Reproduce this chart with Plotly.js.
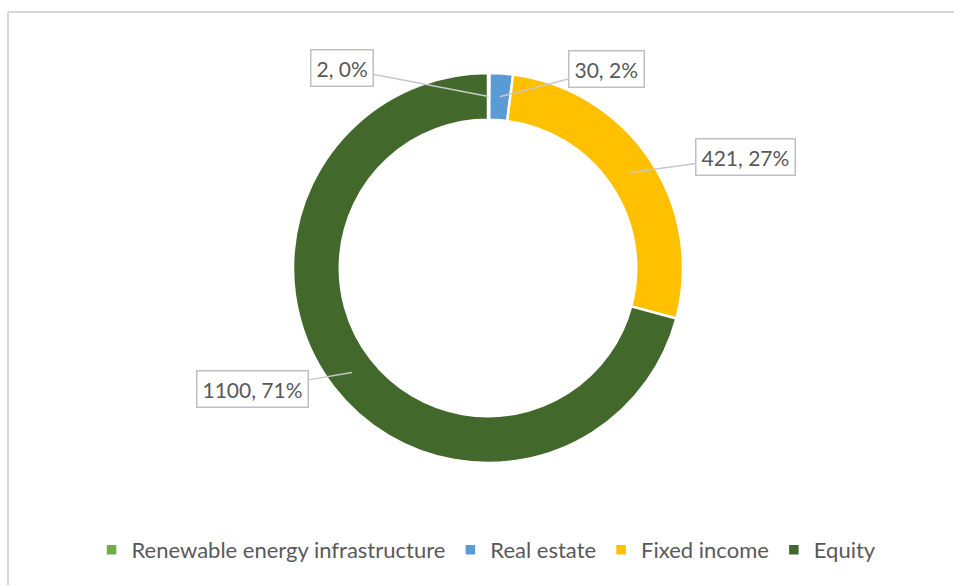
<!DOCTYPE html>
<html>
<head>
<meta charset="utf-8">
<script src="https://cdn.plot.ly/plotly-3.0.1.min.js"></script>
<style>html,body{margin:0;padding:0;background:#fff;}#chart{width:954px;height:585px;}</style>
</head>
<body>
<div id="chart"></div>
<script>
const categories = ["Renewable energy infrastructure", "Real estate", "Fixed income", "Equity"];
const values = [2, 30, 421, 1100];
const colors = ["#70ad47", "#5b9bd5", "#ffc000", "#43682b"];

const W = 954, H = 585;
const cx = 488, cy = 268, R = 195, hole = 0.76;
// label text offsets (pixels) relative to leader tip
const labelOffsets = [[-147, -28], [107, -28], [115, -16], [-99, 17]];

const total = values.reduce((a, b) => a + b, 0);
const midR = R * (1 + hole) / 2;
const annotations = [];
let cum = 0;
values.forEach((v, i) => {
  const mid = (cum + v / 2) / total * 2 * Math.PI;
  cum += v;
  const px = cx + midR * Math.sin(mid);
  const py = cy - midR * Math.cos(mid);
  annotations.push({
    x: px / W, y: 1 - py / H, xref: 'paper', yref: 'paper',
    ax: labelOffsets[i][0], ay: labelOffsets[i][1],
    text: v + ', ' + Math.round(v / total * 100) + '%',
    showarrow: true, arrowhead: 0, arrowwidth: 1.5, arrowcolor: '#c8c8c8',
    standoff: 0,
    font: {family: 'Lato, "Open Sans", sans-serif', size: 21, color: '#595959'},
    bgcolor: '#ffffff', bordercolor: '#bfbfbf', borderwidth: 1.5, borderpad: 5
  });
});

const trace = {
  type: 'pie',
  labels: categories,
  values: values,
  hole: hole,
  sort: false,
  direction: 'clockwise',
  rotation: 0,
  textinfo: 'none',
  hoverinfo: 'label+value+percent',
  marker: {colors: colors, line: {color: '#ffffff', width: 2.5}},
  domain: {x: [(cx - R) / W, (cx + R) / W], y: [(H - cy - R) / H, (H - cy + R) / H]}
};

const layout = {
  width: W, height: H,
  margin: {l: 0, r: 0, t: 0, b: 0},
  paper_bgcolor: '#ffffff',
  showlegend: true,
  legend: {
    orientation: 'h', x: 0.51, xanchor: 'center', y: 1 - 550 / H, yanchor: 'middle',
    font: {family: 'Lato, "Open Sans", sans-serif', size: 22, color: '#595959'},
    traceorder: 'normal', itemwidth: 30
  },
  annotations: annotations,
  shapes: [
    {type: 'line', xref: 'paper', yref: 'paper', x0: 8 / W, x1: 1, y0: 1 - 12 / H, y1: 1 - 12 / H, line: {color: '#d9d9d9', width: 2}},
    {type: 'line', xref: 'paper', yref: 'paper', x0: 8 / W, x1: 8 / W, y0: 0, y1: 1 - 12 / H, line: {color: '#d9d9d9', width: 2}}
  ]
};

Plotly.newPlot('chart', [trace], layout, {displayModeBar: false, staticPlot: true});
</script>
</body>
</html>
